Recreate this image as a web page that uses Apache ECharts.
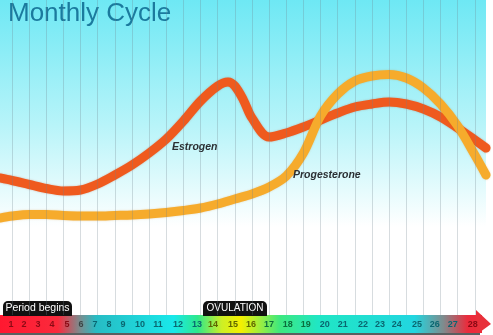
<!DOCTYPE html>
<html>
<head>
<meta charset="utf-8">
<script src="https://cdn.jsdelivr.net/npm/echarts@6/dist/echarts.min.js"></script>
<style>
html,body{margin:0;padding:0;background:#fff;}
#c{width:493px;height:335px;}
</style>
</head>
<body>
<div id="c"></div>
<script>
// ---- data ----
const gridDays = [1,2,3,4,5,6,7,8,9,10,11,12,13,14,15,16,17,18,19,20,21,22,23,24,25,26,27,28];
const dayLabels = ['1','2','3','4','5','6','7','8','9','10','11','12','13','14','15','16','17','18','19','20','21','22','23','24','25','26','27','28'];
const dayLabelPos = [0.94,1.70,2.52,3.33,4.21,5.02,5.84,6.66,7.47,8.46,9.51,10.68,11.79,12.72,13.89,14.94,15.99,17.09,18.14,19.25,20.30,21.47,22.46,23.45,24.62,25.66,26.71,27.88];
const estrogenDays = [0.3,1,2,3,4,5,6,7,8,9,10,11,12,13,13.6,14,14.5,15,16,17,18,19,20,21,22,23,24,25,26,27,28,28.65];
const estrogen = [137,134.5,130.5,126.5,124,125,131,140,150,162,176,194,214,229,233,229,215,197,178,182,188,195,202,208,211,213,211,206,198,187,175,167];
const progesteroneDays = [0.3,1,2,3,4,5,6,7,8,9,10,11,12,13,14,15,16,17,18,19,20,21,22,23,24,25,26,27,28,28.65];
const progesterone = [97,99,100.5,100.5,99.5,99,99,99.5,100,101,102.5,104.5,107,111,116,121,128,139,162,199,221,234,239,240.5,237,227,211,189,160,140];
const seriesNames = ['Estrogen','Progesterone'];
const tagTexts = ['Period begins','OVULATION'];
const titleText = 'Monthly Cycle';

function labelColor(d){
  if (d <= 5 || d === 28) return '#8a0a14';
  if (d === 6) return '#3a4444';
  if (d >= 14 && d <= 16) return '#5f6400';
  if (d >= 17 && d <= 19) return '#0b6e3c';
  return '#0a6670';
}
function labelOf(v){
  let best = 0, bd = 1e9;
  dayLabelPos.forEach((p,i)=>{ const dd=Math.abs(p-v); if(dd<bd){bd=dd;best=i;} });
  return best;
}

const chart = echarts.init(document.getElementById('c'), null, {renderer:'canvas'});
const G = echarts.graphic;

const option = {
  animation: false,
  backgroundColor: '#ffffff',
  grid: {
    left: 0, right: 7, top: 0, bottom: 20,
    show: true,
    borderWidth: 0,
    backgroundColor: new G.LinearGradient(0,0,0,1,[
      {offset:0, color:'#6ee8f4'},
      {offset:0.4, color:'#b8f4f9'},
      {offset:0.72, color:'#ffffff'},
      {offset:1, color:'#ffffff'}
    ])
  },
  xAxis: [{
    type: 'value',
    min: 0.3, max: 28.65,
    axisLine: {show:false},
    axisTick: {show:false, customValues: gridDays},
    splitLine: {show:true, lineStyle:{color:'rgba(110,130,140,0.28)', width:1}},
    axisLabel: {show:false},
    z: 10
  },{
    type: 'value',
    min: 0.3, max: 28.65,
    position: 'bottom',
    axisLine: {show:false},
    axisTick: {show:false},
    splitLine: {show:false},
    axisLabel: {
      customValues: dayLabelPos,
      margin: 5,
      fontSize: 9,
      fontWeight: 'bold',
      fontFamily: 'Liberation Sans',
      formatter: function(v){ return dayLabels[labelOf(v)]; },
      color: function(v){ return labelColor(gridDays[labelOf(v)]); }
    },
    z: 10
  }],
  yAxis: {
    type: 'value', min: 0, max: 315, show: false,
    splitLine: {show:false}
  },
  title: {
    text: titleText,
    left: 3, top: -4,
    textStyle: {fontFamily:'Liberation Sans', fontSize:26, fontWeight:'normal', color:'#1b7a9e'}
  },
  graphic: [
    {type:'rect', shape:{x:0,y:315,width:482,height:18}, z:1,
     style:{fill: new G.LinearGradient(0,0,1,0,[
      {offset:0, color:'#ff1830'},
      {offset:0.12, color:'#fb2a3c'},
      {offset:0.165, color:'#7c8b8d'},
      {offset:0.2, color:'#27bcc4'},
      {offset:0.36, color:'#19e8ea'},
      {offset:0.41, color:'#2ee88c'},
      {offset:0.46, color:'#cdef25'},
      {offset:0.5, color:'#f4f000'},
      {offset:0.54, color:'#9cee40'},
      {offset:0.58, color:'#3ee87e'},
      {offset:0.66, color:'#20e6c4'},
      {offset:0.86, color:'#22d6e0'},
      {offset:0.92, color:'#7f8b8d'},
      {offset:0.97, color:'#ea2c3c'},
      {offset:1, color:'#ee2a38'}
     ])}},
    {type:'polygon', z:1, shape:{points:[[476,310],[491,324],[476,335]]}, style:{fill:'#e8303a'}},
    {type:'rect', z:1, shape:{x:0,y:333,width:480,height:2}, style:{fill:'#5a5f60'}},
    {type:'rect', z:5, shape:{x:3,y:301,width:69,height:15,r:[5,5,0,0]}, style:{fill:'#111111'}},
    {type:'text', z:6, x:37.5, y:308.5, style:{text:tagTexts[0], fill:'#ffffff', fontSize:10.5, fontFamily:'Liberation Sans', align:'center', verticalAlign:'middle'}},
    {type:'rect', z:5, shape:{x:203,y:301,width:64,height:15,r:[5,5,0,0]}, style:{fill:'#111111'}},
    {type:'text', z:6, x:235, y:308.5, style:{text:tagTexts[1], fill:'#ffffff', fontSize:10, fontFamily:'Liberation Sans', align:'center', verticalAlign:'middle'}},
    {type:'text', z:6, x:172, y:147, style:{text:seriesNames[0], fill:'#2b2f33', fontSize:10.5, fontWeight:'bold', fontStyle:'italic', fontFamily:'Liberation Sans', verticalAlign:'middle'}},
    {type:'text', z:6, x:293, y:175, style:{text:seriesNames[1], fill:'#2b2f33', fontSize:10.5, fontWeight:'bold', fontStyle:'italic', fontFamily:'Liberation Sans', verticalAlign:'middle'}}
  ],
  series: [
    {
      name: seriesNames[0], type:'line', smooth:0.33, symbol:'none', z:3,
      data: estrogenDays.map((d,i)=>[d, estrogen[i]]),
      lineStyle:{color:'#ef5a1e', width:9, cap:'round',
        shadowColor:'rgba(190,50,10,0.35)', shadowBlur:2}
    },
    {
      name: seriesNames[1], type:'line', smooth:0.33, symbol:'none', z:4,
      data: progesteroneDays.map((d,i)=>[d, progesterone[i]]),
      lineStyle:{color:'#f6ab2c', width:9, cap:'round',
        shadowColor:'rgba(200,120,10,0.3)', shadowBlur:2}
    }
  ]
};
chart.setOption(option);
</script>
</body>
</html>
